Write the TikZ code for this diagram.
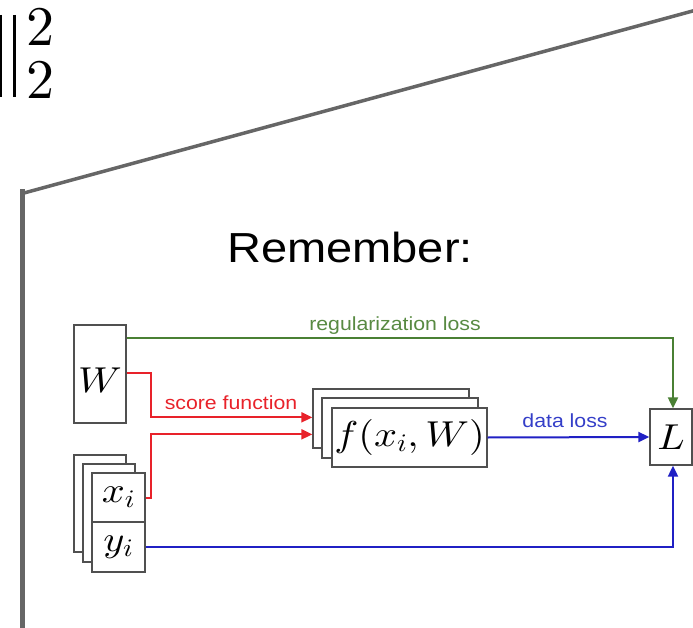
\RequirePackage{fix-cm}
\documentclass[tikz,border=0pt]{standalone}
\usepackage[no-math]{fontspec}
\usepackage{graphicx}
\usetikzlibrary{arrows.meta}
\newfontfamily\labelfont{Liberation Sans}
\newfontfamily\digitfont{lmroman10-regular}[Extension=.otf]
% use the 10pt design of the math fonts at every size
\DeclareFontShape{OML}{cmm}{m}{it}{<->cmmi10}{}
\DeclareFontShape{OT1}{cmr}{m}{n}{<->cmr10}{}
\newcommand{\hstretch}[1]{\scalebox{1.12}[1]{#1}}
\definecolor{framegray}{RGB}{102,102,102}
\definecolor{boxgray}{RGB}{80,80,80}
\definecolor{reglossgreen}{RGB}{74,128,52}
\definecolor{regtextgreen}{RGB}{88,138,66}
\definecolor{scorered}{RGB}{232,34,42}
\definecolor{datablue}{RGB}{32,32,196}
\definecolor{datatextblue}{RGB}{52,62,200}
\begin{document}
\begin{tikzpicture}[x=1pt,y=-1pt,
  box/.style={draw=boxgray,line width=1.3pt,fill=white,inner sep=0pt},
  mathtext/.style={font=\fontsize{36}{40}\selectfont},
  lbl/.style={font=\labelfont\fontsize{19}{22}\selectfont,inner sep=0pt},
  link/.style={line width=2pt},
  tip/.style={-{Triangle[length=11pt,width=10pt]}}]
\useasboundingbox (0,0) rectangle (693,628);

% slide frame
\begin{scope}
\clip (0,0) rectangle (693,628);
\draw[framegray,line width=4.5pt] (22.5,640) -- (22.5,189);
\draw[framegray,line width=3.5pt] (24,193) -- (700,9);
% squared norm fragment
\draw[black,line width=2.6pt] (1,15) -- (1,97);
\draw[black,line width=2.8pt] (14.5,15) -- (14.5,97);
\end{scope}
\node[inner sep=0pt,font=\digitfont\fontsize{56}{60}\selectfont] (sup) at (41,26.5) {2};
\node[inner sep=0pt,font=\digitfont\fontsize{56}{60}\selectfont] (sub) at (41,79.5) {2};

% heading
\node[inner sep=0pt,anchor=base,font=\labelfont\fontsize{42}{48}\selectfont] (title) at (350,262) {\hstretch{Remember:}};

% weights
\node[box,mathtext,minimum width=52,minimum height=98,text height=37pt] (W) at (100,374) {\hstretch{$W$}};

% data stack
\node[box,minimum width=52,minimum height=97] (xback) at (100,503.5) {};
\node[box,minimum width=52,minimum height=98] (xmid) at (109,513) {};
\node[box,mathtext,minimum width=53,minimum height=49] (xi) at (118.5,497.5) {\hstretch{$x_i$}};
\node[box,mathtext,minimum width=53,minimum height=50] (yi) at (118.5,547) {\hstretch{$y_i$}};

% score function stack
\node[box,minimum width=156,minimum height=59] (fback) at (391,418.5) {};
\node[box,minimum width=156,minimum height=60] (fmid) at (400,428) {};
\node[box,mathtext,minimum width=155,minimum height=59] (f) at (409.5,437.5) {\hstretch{$f(x_i,W)$}};

% loss
\node[box,mathtext,minimum width=42,minimum height=56] (L) at (671,437) {\hstretch{$L$}};

% connectors
\draw[reglossgreen,link,tip] ([yshift=-14pt]W.north east) -| ([xshift=2pt]L.north);
\draw[scorered,link,tip] ([yshift=-49pt]W.north east) -- ++(24,0) |- ([yshift=-29pt]fback.north west);
\draw[scorered,link,tip] (xi.east) -- ++(5,0) |- ([yshift=-46pt]fback.north west);
\draw[datablue,link,tip] (f.east) -- (L.west);
\draw[datablue,link,tip] (yi.east) -| ([xshift=2pt]L.south);

% labels
\node[lbl,text=regtextgreen] (reglbl) at (395,326) {\hstretch{regularization loss}};
\node[lbl,text=scorered] (scorelbl) at (231,403) {\hstretch{score function}};
\node[lbl,text=datatextblue] (datalbl) at (565,421) {\hstretch{data loss}};
\end{tikzpicture}
\end{document}
